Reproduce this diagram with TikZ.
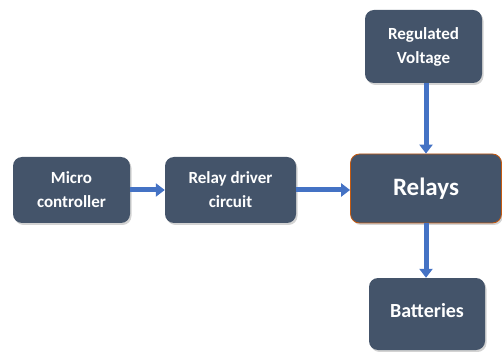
\documentclass[tikz,border=0pt]{standalone}
\usepackage{fontspec}
\setmainfont{Carlito}
\usetikzlibrary{arrows.meta,shadows}

\definecolor{boxfill}{HTML}{44546A}
\definecolor{arrowblue}{HTML}{4472C4}
\definecolor{edgeorange}{HTML}{C55A11}

\tikzset{
  block/.style={rectangle, rounded corners=9pt, fill=boxfill, text=white,
    font=\bfseries\fontsize{17}{24}\selectfont, align=center, inner sep=0pt,
    drop shadow={shadow xshift=1.5pt, shadow yshift=-2pt, opacity=0.35}},
  flow/.style={draw=arrowblue, line width=5pt,
    -{Triangle[width=13pt,length=9pt]}}
}

\begin{document}
\begin{tikzpicture}[x=1pt, y=-1pt]
    % Khung trang
    \useasboundingbox (0,0) rectangle (502,352);

    % Cac khoi
    \node[block, minimum width=117pt, minimum height=66pt] (micro) at (71.5,190) {Micro\\controller};
    \node[block, minimum width=131pt, minimum height=66pt] (driver) at (230.5,190) {Relay driver\\circuit};
    \node[block, minimum width=151pt, minimum height=69pt, draw=edgeorange, line width=0.8pt,
      font=\bfseries\fontsize{25}{30}\selectfont] (relays) at (426,188.5) {Relays};
    \node[block, minimum width=117pt, minimum height=73pt] (volt) at (423.5,46.5) {Regulated\\Voltage};
    \node[block, minimum width=116pt, minimum height=72pt, text depth=8pt,
      font=\bfseries\fontsize{20}{24}\selectfont] (batt) at (427,314) {Batteries};

    % Mui ten
    \draw[flow] (micro.east) -- (driver.west);
    \draw[flow] (driver.east) -- (driver.east -| relays.west);
    \draw[flow] (relays.north |- volt.south) -- (relays.north);
    \draw[flow] (relays.south) -- (relays.south |- batt.north);

\end{tikzpicture}
\end{document}
